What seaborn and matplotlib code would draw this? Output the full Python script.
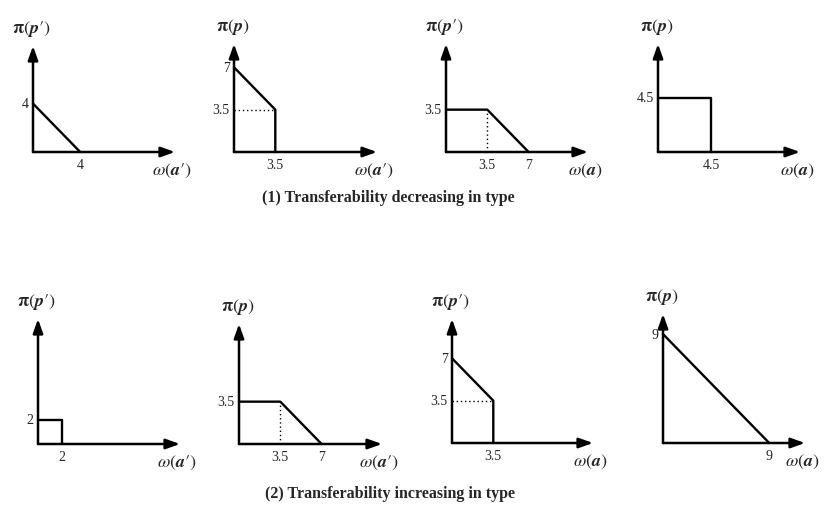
import matplotlib
matplotlib.use("Agg")
import matplotlib.pyplot as plt
import seaborn as sns

# data for the eight little diagrams (row 1: decreasing, row 2: increasing)
y_vars = ["p'", "p", "p'", "p", "p'", "p", "p'", "p"]
x_vars = ["a'", "a'", "a", "a", "a'", "a'", "a", "a"]

frontier_x = [[0, 4], [0, 3.5, 3.5], [0, 3.5, 7], [0, 4.5, 4.5],
              [0, 2, 2], [0, 3.5, 7], [0, 3.5, 3.5], [0, 9]]
frontier_y = [[4, 0], [7, 3.5, 0], [3.5, 3.5, 0], [4.5, 4.5, 0],
              [2, 2, 0], [3.5, 3.5, 0], [7, 3.5, 0], [9, 0]]

# dotted guide lines (None = no guide)
guide_x = [None, [0, 3.5], [3.5, 3.5], None, None, [3.5, 3.5], [0, 3.5], None]
guide_y = [None, [3.5, 3.5], [0, 3.5], None, None, [0, 3.5], [3.5, 3.5], None]

yticks = [[4], [7, 3.5], [3.5], [4.5], [2], [3.5], [7, 3.5], [9]]
xticks = [[4], [3.5], [3.5, 7], [4.5], [2], [3.5, 7], [3.5], [9]]

captions = ["(1) Transferability decreasing in type",
            "(2) Transferability increasing in type"]

# layout in pixels: origin x, origin y, arrow tip x, arrow top y
W, H = 833, 506
boxes = [(33, 153, 175, 47), (234, 153, 377, 45), (446, 153, 588, 45), (658, 153, 800, 45),
         (38, 445, 180, 320), (239, 445, 382, 325), (452, 444, 593, 320), (663, 444, 805, 315)]
SX, SY = 11.8, 12.1  # pixels per unit

sns.set_theme(style="white")
plt.rcParams["mathtext.fontset"] = "stix"
plt.rcParams["font.family"] = ["Liberation Serif", "DejaVu Sans"]

fig = plt.figure(figsize=(W / 100, H / 100), dpi=100)
fig.patch.set_facecolor("white")

arrow = dict(arrowstyle="-|>,head_length=0.7,head_width=0.25", lw=1.8,
             color="black", shrinkA=0, shrinkB=0)


def var_tex(v):
    # bold italic letter, prime kept outside the bold font
    base = r"\mathbfit{%s}" % v[0]
    if v.endswith("'"):
        base += r"\prime"
    return base


for i, (ox, oy, tx, ty) in enumerate(boxes):
    ax = fig.add_axes([ox / W, 1 - oy / H, (tx - ox) / W, (oy - ty) / H])
    ax.set_xlim(0, (tx - ox) / SX)
    ax.set_ylim(0, (oy - ty) / SY)
    ax.set_axis_off()

    # axes as arrows
    ax.annotate("", xy=(1, 0), xytext=(0, 0), xycoords="axes fraction", arrowprops=arrow)
    ax.annotate("", xy=(0, 1), xytext=(0, 0), xycoords="axes fraction", arrowprops=arrow)

    sns.lineplot(x=frontier_x[i], y=frontier_y[i], sort=False, estimator=None,
                 color="black", lw=1.7, ax=ax, clip_on=False)
    if guide_x[i] is not None:
        sns.lineplot(x=guide_x[i], y=guide_y[i], sort=False, estimator=None,
                     color="black", lw=1.0, linestyle=(0, (1, 2)), ax=ax, clip_on=False)

    for v in yticks[i]:
        ax.annotate(f"{v:g}", xy=(0, v), xytext=(-3, 0), textcoords="offset points",
                    ha="right", va="center", fontsize=10)
    for v in xticks[i]:
        ax.annotate(f"{v:g}", xy=(v, 0), xytext=(0, -4), textcoords="offset points",
                    ha="center", va="top", fontsize=10)

    ax.annotate(r"$\mathbf{\pi}\left(%s\right)$" % var_tex(y_vars[i]), xy=(0, 1),
                xycoords="axes fraction", xytext=(-1, 13), textcoords="offset points",
                ha="center", va="center", fontsize=13)
    ax.annotate(r"$\omega\left(%s\right)$" % var_tex(x_vars[i]), xy=(1, 0),
                xycoords="axes fraction", xytext=(-2, -13), textcoords="offset points",
                ha="center", va="center", fontsize=13)

fig.text(388 / W, 1 - 198 / H, captions[0], ha="center", va="center",
         fontsize=11.5, fontweight="bold")
fig.text(390 / W, 1 - 494 / H, captions[1], ha="center", va="center",
         fontsize=11.5, fontweight="bold")

fig.savefig("out.png", dpi=100, facecolor="white")
